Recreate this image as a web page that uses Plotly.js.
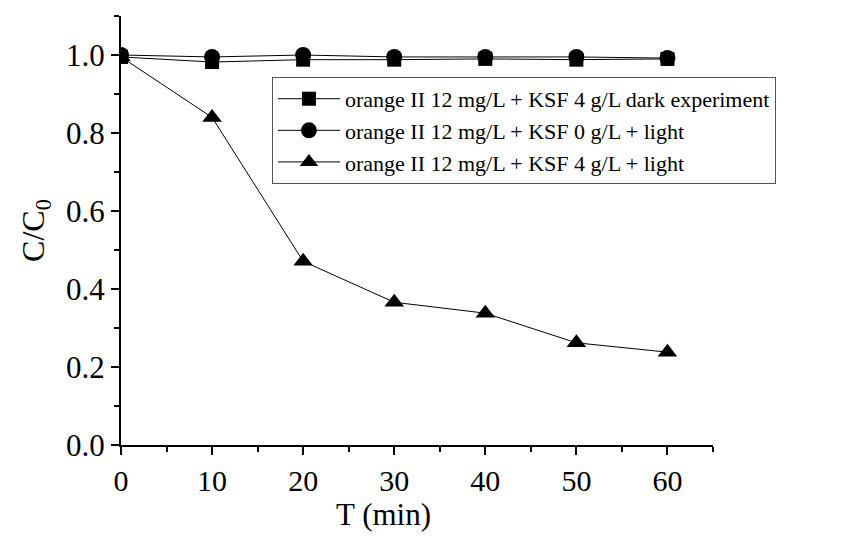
<!DOCTYPE html>
<html>
<head>
<meta charset="utf-8">
<script src="https://cdn.plot.ly/plotly-3.0.1.min.js"></script>
<style>html,body{margin:0;padding:0;background:#fff;}#chart{width:865px;height:536px;}</style>
</head>
<body>
<div id="chart"></div>
<script>
const timeMin = [0, 10, 20, 30, 40, 50, 60];
const darkExp = [0.995, 0.982, 0.988, 0.988, 0.990, 0.988, 0.990];
const noKsfLight = [1.000, 0.995, 1.000, 0.995, 0.995, 0.995, 0.992];
const ksfLight = [0.995, 0.840, 0.471, 0.366, 0.338, 0.262, 0.238];
const seriesNames = [
  'orange II 12 mg/L + KSF 4 g/L dark experiment',
  'orange II 12 mg/L + KSF 0 g/L + light',
  'orange II 12 mg/L + KSF 4 g/L + light'
];
const xTitle = 'T (min)';
const yTitle = 'C/C<sub>0</sub>';

const font = 'Liberation Serif, Times New Roman, serif';
const mk = (sym, size) => ({symbol: sym, size: size, color: '#000'});
const traces = [
  {x: timeMin, y: darkExp, name: seriesNames[0], mode: 'lines+markers',
   line: {color: '#000', width: 1}, marker: mk('square', 14)},
  {x: timeMin, y: noKsfLight, name: seriesNames[1], mode: 'lines+markers',
   line: {color: '#000', width: 1}, marker: mk('circle', 16)},
  {x: timeMin, y: ksfLight, name: seriesNames[2], mode: 'lines+markers',
   line: {color: '#000', width: 1}, marker: mk('triangle-up', 17)}
];

const layout = {
  width: 865, height: 536,
  margin: {l: 121, r: 152, t: 16, b: 91},
  paper_bgcolor: '#fff', plot_bgcolor: '#fff',
  font: {family: font, color: '#000', size: 31},
  showlegend: true,
  legend: {
    x: 0.255, y: 0.858, xanchor: 'left', yanchor: 'top',
    bgcolor: '#fff', bordercolor: '#555', borderwidth: 1,
    font: {family: font, size: 22, color: '#000'},
    tracegroupgap: 0, itemwidth: 62
  },
  xaxis: {
    range: [0, 65], dtick: 10, tick0: 0,
    showgrid: false, zeroline: false,
    showline: true, linecolor: '#000', linewidth: 2,
    ticks: 'outside', ticklen: 8, tickwidth: 2, tickcolor: '#000',
    minor: {dtick: 5, ticks: 'outside', ticklen: 5, tickwidth: 2, tickcolor: '#000', showgrid: false},
    tickfont: {family: font, size: 30}
  },
  yaxis: {
    range: [0, 1.1], dtick: 0.2, tick0: 0, tickformat: '.1f',
    showgrid: false, zeroline: false,
    showline: true, linecolor: '#000', linewidth: 2,
    ticks: 'outside', ticklen: 8, tickwidth: 2, tickcolor: '#000',
    minor: {dtick: 0.1, ticks: 'outside', ticklen: 5, tickwidth: 2, tickcolor: '#000', showgrid: false},
    tickfont: {family: font, size: 31},
    title: {text: yTitle, font: {family: font, size: 32}, standoff: 12}
  },
  annotations: [{
    text: xTitle, xref: 'paper', yref: 'paper', x: 0.444, y: 0,
    xanchor: 'center', yanchor: 'middle', yshift: -69, showarrow: false,
    font: {family: font, size: 31, color: '#000'}
  }]
};

Plotly.newPlot('chart', traces, layout, {displayModeBar: false, staticPlot: true});
</script>
</body>
</html>
